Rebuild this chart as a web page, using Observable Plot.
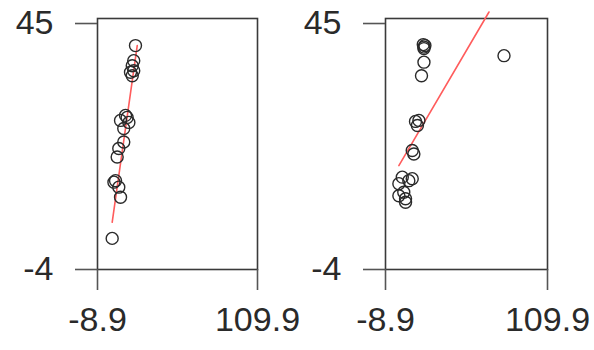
<!DOCTYPE html>
<html>
<head>
<meta charset="utf-8">
<script src="https://cdn.jsdelivr.net/npm/d3@7"></script>
<script src="https://cdn.jsdelivr.net/npm/@observablehq/plot@0.6"></script>
<style>
  html, body { margin: 0; padding: 0; background: white; }
  #wrap { position: relative; width: 594px; height: 350px; }
  #wrap svg { position: absolute; left: 0; top: 0; }
</style>
</head>
<body>
<div id="wrap"></div>
<script>
// Axis tick values
const xTicks = [-8.9, 109.9];
const yTicks = [-4, 45];

// Panel 1 points
const p1x = [19.3, 18.0, 16.9, 18.0, 15.6, 16.9, 11.9, 13.1, 8.2, 14.4, 10.6, 10.6, 6.9, 5.7, 3.3, 4.5, 6.9, 8.2, 2.0];
const p1y = [40.6, 37.6, 36.6, 35.6, 35.3, 34.6, 26.7, 26.3, 25.7, 25.3, 24.1, 21.4, 20.1, 18.4, 13.4, 13.7, 12.4, 10.4, 2.2];
// Panel 1 fitted line (ends)
const p1fitX = [2.0, 20.6];
const p1fitY = [5.4, 40.6];

// Panel 2 points
const p2x = [20.0, 19.3, 19.3, 18.8, 19.3, 17.5, 78.0, 15.6, 14.5, 13.1, 11.9, 10.7, 3.4, 10.7, 0.9, 4.5, 5.8, 8.2, 0.9, 5.8];
const p2y = [40.6, 40.3, 40.0, 40.8, 37.3, 34.6, 38.6, 25.7, 24.7, 25.5, 19.0, 19.7, 14.4, 14.1, 13.1, 11.4, 10.1, 13.7, 10.7, 9.4];
// Panel 2 fitted line (ends)
const p2fitX = [0.9, 67.0];
const p2fitY = [16.7, 47.3];

const font = "'Liberation Sans', Arial, Helvetica, sans-serif";

function panel(xs, ys, fx, fy, ml, mr) {
  const pts = xs.map((x, i) => ({x, y: ys[i]}));
  const fit = fx.map((x, i) => ({x, y: fy[i]}));
  return Plot.plot({
    width: 594,
    height: 350,
    marginLeft: ml,
    marginRight: mr,
    marginTop: 18,
    marginBottom: 81,
    x: {domain: [-8.9, 109.9]},
    y: {domain: [-4, 46]},
    style: {background: "transparent", fontFamily: font, fontSize: "34px", color: "#2a2a2a", overflow: "visible"},
    marks: [
      Plot.frame({stroke: "#3a3a3a", strokeWidth: 1.6}),
      Plot.axisX({ticks: xTicks, tickSize: 21, tickPadding: 16, tickFormat: d => String(d), label: null, fontSize: 34, strokeWidth: 1.6, stroke: "#555"}),
      Plot.axisY({ticks: yTicks, tickSize: 22, tickPadding: 22, tickFormat: d => String(d), label: null, fontSize: 34, strokeWidth: 1.6, stroke: "#555"}),
      Plot.line(fit, {x: "x", y: "y", stroke: "#ff5c5c", strokeWidth: 1.6, clip: false}),
      Plot.dot(pts, {x: "x", y: "y", r: 6, stroke: "#2a2a2a", strokeWidth: 1.4, fill: "none"})
    ]
  });
}

const wrap = document.getElementById("wrap");
wrap.appendChild(panel(p1x, p1y, p1fitX, p1fitY, 97, 594 - 257));
wrap.appendChild(panel(p2x, p2y, p2fitX, p2fitY, 385, 594 - 547));
</script>
</body>
</html>
